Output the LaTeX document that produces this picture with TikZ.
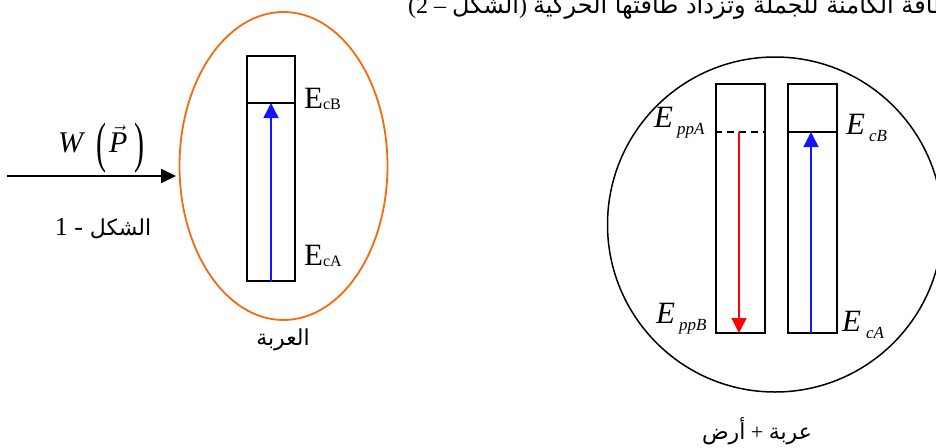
\documentclass[tikz,border=0pt]{standalone}
\usepackage{fontspec}
\setmainfont{Liberation Serif}
\newfontfamily\arabicfont[Script=Arabic]{DejaVu Sans}
\TeXXeTstate=1
\usetikzlibrary{arrows.meta,shapes.geometric}
\definecolor{carorange}{RGB}{245,105,15}
\definecolor{arrblue}{RGB}{20,20,255}
\definecolor{arrred}{RGB}{255,0,0}
\newcommand{\EupLab}[1]{{\fontsize{31}{31}\selectfont E}{\fontsize{16}{16}\selectfont\raisebox{-1pt}{#1}}}
\newcommand{\EitLab}[2]{{\fontsize{31}{31}\selectfont\itshape E}\kern#2{\fontsize{17}{17}\selectfont\itshape\raisebox{-7pt}{#1}}}
\begin{document}
\begin{tikzpicture}[x=1pt,y=-1pt,
  bar/.style={draw=black,line width=1.8pt,minimum width=48pt,inner sep=0pt},
  lvl/.style={draw=black,line width=1.6pt},
  lvldash/.style={draw=black,line width=1.6pt,dash pattern=on 7pt off 5pt},
  uparr/.style={draw=arrblue,line width=1.4pt,-{Triangle[length=15pt,width=15pt]}},
  downarr/.style={draw=arrred,line width=1.4pt,-{Triangle[length=15pt,width=15pt]}},
  lab/.style={inner sep=0pt,anchor=base west},
  arlab/.style={inner sep=0pt,anchor=base,font=\fontsize{22}{22}\selectfont}
]
\useasboundingbox (0,0) rectangle (936,447);
\clip (0,0) rectangle (936,447);

% top partial text line (cut by the top edge, as in the reference)
\node[inner sep=0pt,anchor=base west,font=\fontsize{24}{24}\selectfont] (topline) at (408,13)
  {(2 – {\arabicfont\beginR الشكل\endR}) {\arabicfont\beginR تنقص الطاقة الكامنة للجملة وتزداد طاقتها الحركية\endR}};

% ---------- left figure ----------
\node[ellipse,draw=carorange,line width=1.8pt,minimum width=208pt,minimum height=308pt,inner sep=0pt] (car) at (283.5,166) {};
\coordinate (wstart) at (7,176);
\coordinate (wend) at (176,176);
\draw[line width=2pt,-{Triangle[length=15pt,width=14pt]}] (wstart) -- (wend);
\node[lab,font=\fontsize{30}{30}\selectfont\itshape] (wlab) at (58,152) {W};
\node[lab,font=\fontsize{30}{30}\selectfont] (lpar) at (96,161) {\scalebox{1}[1.85]{(}};
\node[lab,font=\fontsize{30}{30}\selectfont] (plab) at (109,152) {$\vec{\hbox{\itshape P}}$};
\node[lab,font=\fontsize{30}{30}\selectfont] (rpar) at (134,161) {\scalebox{1}[1.85]{)}};
\node[inner sep=0pt,anchor=base] (fig1) at (103,235)
  {{\fontsize{26}{26}\selectfont 1 -}\hspace{7pt}{\arabicfont\fontsize{22}{22}\selectfont\beginR الشكل\endR}};

\node[bar,minimum height=225pt] (carbar) at (271,168.5) {};
\coordinate (carlvl) at (271,103);
\draw[lvl] (carbar.west |- carlvl) -- (carbar.east |- carlvl);
\draw[uparr] (carbar.south) -- (carlvl);
\node[lab] (ecb1) at (304,108) {\EupLab{cB}};
\node[lab] (eca1) at (304,265) {\EupLab{cA}};
\node[arlab] (carname) at (283,345) {\arabicfont\beginR العربة\endR};

% ---------- right figure ----------
\node[circle,draw=black,line width=1.5pt,minimum size=335pt,inner sep=0pt] (sys) at (775,224.5) {};
\node[bar,minimum width=49pt,minimum height=249pt] (ppbar) at (740.5,208.5) {};
\node[bar,minimum width=49pt,minimum height=249pt] (cbar) at (812.5,208.5) {};
\coordinate (pplvl) at (739,132);
\coordinate (ppbot) at (739,333);
\coordinate (clvl) at (811,132);
\coordinate (cbot) at (811,333);
\draw[lvldash] (ppbar.west |- pplvl) -- (ppbar.east |- pplvl);
\draw[lvl] (cbar.west |- clvl) -- (cbar.east |- clvl);
\draw[downarr] (pplvl) -- (ppbot);
\draw[uparr] (cbot) -- (clvl);
\node[lab] (eppa) at (654,127) {\EitLab{ppA}{4pt}};
\node[lab] (eppb) at (656,323) {\EitLab{ppB}{4pt}};
\node[lab] (ecb2) at (846,134) {\EitLab{cB}{4pt}};
\node[lab] (eca2) at (842,331) {\EitLab{cA}{5pt}};
\node[arlab] (sysname) at (757,439)
  {{\arabicfont\beginR أرض\endR} + {\arabicfont\beginR عربة\endR}};
\end{tikzpicture}
\end{document}
